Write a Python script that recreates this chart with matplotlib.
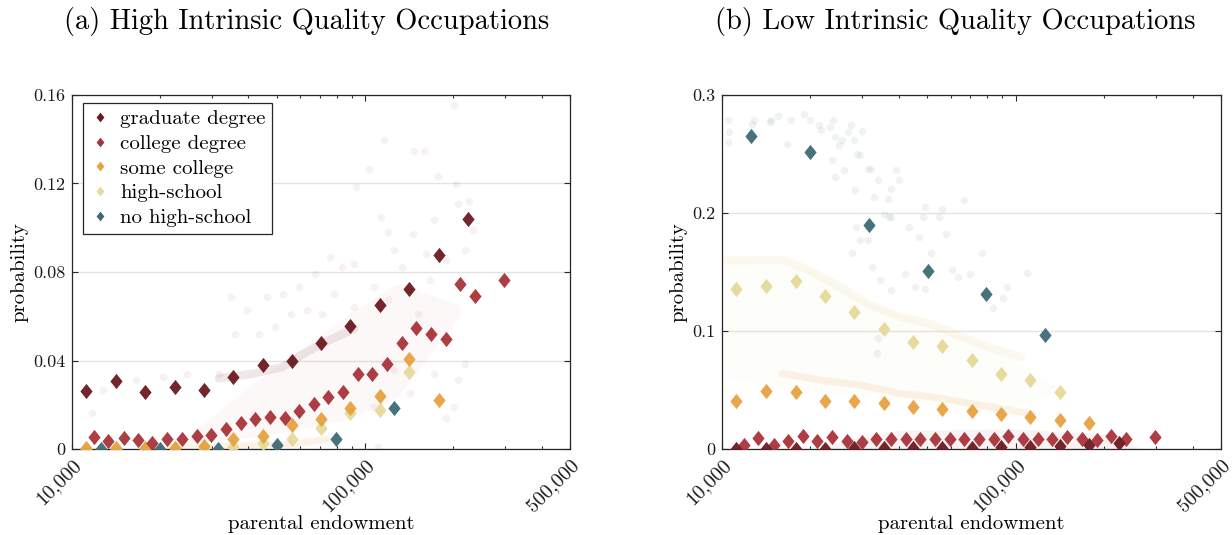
import matplotlib
matplotlib.use("Agg")
import matplotlib.pyplot as plt
import matplotlib.transforms as mtransforms
from matplotlib.lines import Line2D

plt.rcParams['font.family'] = ['cmr10', 'DejaVu Serif']
plt.rcParams['mathtext.fontset'] = 'cm'
plt.rcParams['axes.formatter.use_mathtext'] = True

# bin centres (parental endowment)
x_coarse = [11200, 14100, 17800, 22400, 28200, 35500, 44700, 56200, 70800,
            89100, 112000, 141000, 178000, 224000]
x_fine = [11900, 13300, 15000, 16800, 18800, 21100, 23700, 26600, 29900, 33500,
          37600, 42200, 47300, 53100, 59600, 66800, 75000, 84100, 94400, 105900,
          118900, 133400, 149600, 167900, 188400, 211300, 237100, 298500]
x_nohs = [12600, 20000, 31600, 50100, 79400, 125900]

# (a) high intrinsic quality
hi_grad = [0.0262, 0.0307, 0.0259, 0.0280, 0.0268, 0.0326, 0.0379, 0.0397,
           0.0477, 0.0558, 0.0650, 0.0722, 0.0877, 0.1038]
hi_coll = [0.0056, 0.0035, 0.0048, 0.0041, 0.0029, 0.0045, 0.0044, 0.0059,
           0.0063, 0.0089, 0.0116, 0.0134, 0.0146, 0.0141, 0.0171, 0.0202,
           0.0235, 0.0257, 0.0341, 0.0338, 0.0382, 0.0477, 0.0546, 0.0519,
           0.0499, 0.0747, 0.0692, 0.0762]
hi_some = [0.0003, 0.0003, 0.0003, 0.0006, 0.0014, 0.0043, 0.0058, 0.0108,
           0.0135, 0.0184, 0.0238, 0.0407, 0.0223]
hi_hs = [0.0002, 0.0002, 0.0002, 0.0003, 0.0006, 0.0010, 0.0025, 0.0046,
         0.0093, 0.0162, 0.0177, 0.0349]
hi_nohs = [0.0, 0.0, 0.0002, 0.0020, 0.0047, 0.0187]

# (b) low intrinsic quality
lo_grad = [0.0002, 0.0002, 0.0002, 0.0002, 0.0006, 0.0006, 0.0008, 0.0011,
           0.0011, 0.0014, 0.0014, 0.0024, 0.0035, 0.0049]
lo_coll = [0.0037, 0.0093, 0.0037, 0.0071, 0.0113, 0.0065, 0.0102, 0.0065,
           0.0059, 0.0085, 0.0087, 0.0085, 0.0087, 0.0085, 0.0087, 0.0087,
           0.0087, 0.0087, 0.0107, 0.0087, 0.0087, 0.0087, 0.0102, 0.0087,
           0.0079, 0.0107, 0.0087, 0.0099]
lo_some = [0.0408, 0.0492, 0.0485, 0.0410, 0.0408, 0.0394, 0.0352, 0.0341,
           0.0323, 0.0298, 0.0270, 0.0245, 0.0220]
lo_hs = [0.1355, 0.1383, 0.1425, 0.1295, 0.1157, 0.1019, 0.0909, 0.0875,
         0.0754, 0.0635, 0.0584, 0.0480]
lo_nohs = [0.2655, 0.2517, 0.1900, 0.1512, 0.1313, 0.0968]

# faint individual observations that stand out in the background
hi_cloud_x = [201600, 116000, 146600, 158500, 176800, 203500, 103000, 93200,
              113500, 119700, 145700, 171300, 206700, 226900, 234100, 220000,
              76100, 83600, 91800, 67200, 59300, 52300, 46200, 39500, 36000,
              34900, 125400, 133500, 161000, 188200, 166100, 107300, 119700,
              151200, 91800, 78500, 71500, 63100, 55700, 49200, 43400, 31700,
              24700, 20500, 16500, 12800, 11700, 206700, 220000, 171300,
              125400, 142100, 188200, 200300, 107300, 110700]
hi_cloud_y = [0.1556, 0.1397, 0.1346, 0.1349, 0.1236, 0.1199, 0.1266, 0.1183,
              0.1048, 0.0980, 0.0973, 0.1033, 0.1108, 0.1123, 0.0988, 0.0898,
              0.0868, 0.0823, 0.0838, 0.0793, 0.0732, 0.0702, 0.0687, 0.0627,
              0.0522, 0.0687, 0.0898, 0.0823, 0.0883, 0.0853, 0.0762, 0.0732,
              0.0672, 0.0612, 0.0642, 0.0702, 0.0612, 0.0627, 0.0612, 0.0552,
              0.0522, 0.0341, 0.0341, 0.0326, 0.0311, 0.0266, 0.0161, 0.0311,
              0.0386, 0.0341, 0.0356, 0.0251, 0.0138, 0.0191, 0.0191, 0.0011]
lo_cloud_x = [10470, 10470, 10540, 12670, 12870, 14550, 14640, 15480, 16620,
              17130, 19020, 19980, 21380, 21710, 23300, 23660, 23950, 24170,
              24930, 25700, 26920, 27600, 28190, 28800, 29520, 29980, 24170,
              25940, 28370, 28630, 29520, 31400, 32180, 32880, 33910, 36610,
              36960, 37760, 39180, 40160, 43360, 46830, 48290, 49040, 51350,
              54620, 56320, 58080, 60810, 63690, 66700, 69840, 76590, 109100,
              90720, 93550, 84000, 32380, 34430, 37760, 42050, 45410, 49040,
              33910, 33590, 31400, 27770, 37760, 35500]
lo_cloud_y = [0.2791, 0.2602, 0.2687, 0.2757, 0.2785, 0.2771, 0.2791, 0.2819,
              0.2588, 0.2791, 0.2842, 0.2785, 0.2749, 0.2701, 0.2729, 0.2452,
              0.2791, 0.2644, 0.2574, 0.2616, 0.2687, 0.2749, 0.2616, 0.2503,
              0.2489, 0.2695, 0.2306, 0.2362, 0.2193, 0.1882, 0.1770, 0.2376,
              0.2376, 0.2136, 0.2278, 0.2122, 0.1967, 0.2207, 0.2362, 0.2278,
              0.1882, 0.1798, 0.1967, 0.2052, 0.1657, 0.1967, 0.2038, 0.1826,
              0.1515, 0.1459, 0.2108, 0.1487, 0.1657, 0.1493, 0.1276, 0.1369,
              0.1191, 0.1544, 0.1431, 0.1346, 0.1487, 0.1374, 0.1360, 0.0937,
              0.0810, 0.1770, 0.1657, 0.1967, 0.1995]

# dense streaks of observations
hi_grad_band_x = [31700, 42000, 52300, 59300, 71500, 91800]
hi_grad_band_y = [0.0319, 0.0341, 0.0371, 0.0417, 0.0477, 0.0544]
hi_low_band_x = [21600, 35000, 56700, 75000]
hi_low_band_y = [0.0008, 0.0012, 0.0022, 0.0045]
hi_coll_haze_x = [25000, 40000, 60000, 90000, 130000, 210000]
hi_coll_haze_top = [0.006, 0.028, 0.045, 0.062, 0.075, 0.065]
hi_coll_haze_bot = [0.003, 0.005, 0.009, 0.014, 0.024, 0.060]

lo_hs_band_x = [10400, 16000, 19200, 24600, 31400, 40200, 51400, 65700, 84000, 104200]
lo_hs_band_y = [0.160, 0.160, 0.153, 0.139, 0.123, 0.112, 0.106, 0.095, 0.085, 0.078]
lo_hs_haze_x = [10400, 20000, 30000, 50000, 80000, 140000]
lo_hs_haze_top = [0.160, 0.152, 0.126, 0.106, 0.088, 0.052]
lo_hs_haze_bot = [0.060, 0.050, 0.045, 0.038, 0.030, 0.048]
lo_some_band_x = [16000, 21700, 29500, 40200, 51400, 69800, 95000, 114300]
lo_some_band_y = [0.0641, 0.0584, 0.0542, 0.0471, 0.0443, 0.0387, 0.0330, 0.0294]
lo_red_haze_x = [22400, 40000, 100000, 200000, 260000]
lo_red_haze_top = [0.004, 0.016, 0.017, 0.013, 0.002]

labels = ['graduate degree', 'college degree', 'some college', 'high-school',
          'no high-school']
colors = ['#6b1a20', '#a8333a', '#e6a240', '#e6d99a', '#3e6a76']

diamond = [(0, 1), (0.8, 0), (0, -1), (-0.8, 0), (0, 1)]


def panel(ax, series, ymax, yticks, ylabels):
    for xs, ys, c in reversed(series):
        ax.plot(xs, ys, linestyle='none', marker=diamond, ms=11, mew=0,
                color=c, alpha=0.95, zorder=4)
    ax.set_xscale('log')
    ax.set_xlim(10000, 500000)
    ax.set_ylim(0, ymax)
    ax.set_xticks([10000, 100000, 500000])
    ax.set_xticklabels(['10,000', '100,000', '500,000'], rotation=45,
                       ha='right', va='top', rotation_mode='anchor',
                       fontsize=14.5)
    shift = mtransforms.ScaledTranslation(7 / 100, -2 / 100, fig.dpi_scale_trans)
    for lab in ax.get_xticklabels():
        lab.set_transform(lab.get_transform() + shift)
    ax.set_yticks(yticks)
    ax.set_yticklabels(ylabels, fontsize=13)
    ax.grid(axis='y', color='#e3e3e3', lw=1)
    ax.set_axisbelow(True)
    ax.tick_params(which='both', direction='in', top=True, right=True,
                   colors='#262626', labelcolor='#1a1a1a')
    ax.tick_params(which='major', length=4, width=0.8, pad=5)
    ax.tick_params(which='minor', length=2.5, width=0.8)
    ax.tick_params(axis='x', which='minor', labelbottom=False)
    for s in ax.spines.values():
        s.set_linewidth(0.9)
        s.set_color('#262626')
    ax.set_xlabel('parental endowment', fontsize=15, labelpad=0)
    ax.set_ylabel('probability', fontsize=15, labelpad=3)


fig = plt.figure(figsize=(12.32, 5.35), dpi=100)
W, H = 1232, 535
ax1 = fig.add_axes([72 / W, 86 / H, 498 / W, 354 / H])
ax2 = fig.add_axes([722 / W, 86 / H, 499 / W, 354 / H])

# background clouds, panel (a)
ax1.fill_between(hi_coll_haze_x, hi_coll_haze_bot, hi_coll_haze_top,
                 color=colors[1], alpha=0.03, lw=0, zorder=1)
ax1.scatter(hi_cloud_x, hi_cloud_y, s=30, color=colors[1], alpha=0.07,
            lw=0, zorder=2)
ax1.plot(hi_grad_band_x, hi_grad_band_y, color=colors[0], lw=6, alpha=0.1,
         solid_capstyle='round', zorder=2)
ax1.plot(hi_low_band_x, hi_low_band_y, color=colors[2], lw=5, alpha=0.12,
         solid_capstyle='round', zorder=2)

# background clouds, panel (b)
ax2.fill_between(lo_hs_haze_x, lo_hs_haze_bot, lo_hs_haze_top,
                 color=colors[3], alpha=0.05, lw=0, zorder=1)
ax2.fill_between(lo_red_haze_x, 0, lo_red_haze_top,
                 color=colors[1], alpha=0.06, lw=0, zorder=1)
ax2.scatter(lo_cloud_x, lo_cloud_y, s=30, color=colors[4], alpha=0.08,
            lw=0, zorder=2)
ax2.plot(lo_hs_band_x, lo_hs_band_y, color=colors[3], lw=6, alpha=0.15,
         solid_capstyle='round', zorder=2)
ax2.plot(lo_some_band_x, lo_some_band_y, color=colors[2], lw=5, alpha=0.12,
         solid_capstyle='round', zorder=2)

panel(ax1, [(x_coarse, hi_grad, colors[0]), (x_fine, hi_coll, colors[1]),
            (x_coarse[:13], hi_some, colors[2]), (x_coarse[:12], hi_hs, colors[3]),
            (x_nohs, hi_nohs, colors[4])],
      0.16, [0, 0.04, 0.08, 0.12, 0.16], ['0', '0.04', '0.08', '0.12', '0.16'])
panel(ax2, [(x_coarse, lo_grad, colors[0]), (x_fine, lo_coll, colors[1]),
            (x_coarse[:13], lo_some, colors[2]), (x_coarse[:12], lo_hs, colors[3]),
            (x_nohs, lo_nohs, colors[4])],
      0.3, [0, 0.1, 0.2, 0.3], ['0', '0.1', '0.2', '0.3'])

handles = [Line2D([], [], linestyle='none', marker=diamond, ms=7, mew=0,
                  color=c) for c in colors]
leg = ax1.legend(handles, labels, loc='upper left', bbox_to_anchor=(0.022, 0.977),
                 borderaxespad=0, fontsize=15, frameon=True, fancybox=False,
                 edgecolor='#262626', framealpha=1, handlelength=1.0,
                 handletextpad=0.5, labelspacing=0.3, borderpad=0.3)
leg.get_frame().set_linewidth(0.9)

fig.text(307 / W, 1 - 22 / H, '(a) High Intrinsic Quality Occupations',
         ha='center', va='center', fontsize=20.5)
fig.text(955 / W, 1 - 22 / H, '(b) Low Intrinsic Quality Occupations',
         ha='center', va='center', fontsize=20.5)

fig.savefig('out.png', dpi=100)
